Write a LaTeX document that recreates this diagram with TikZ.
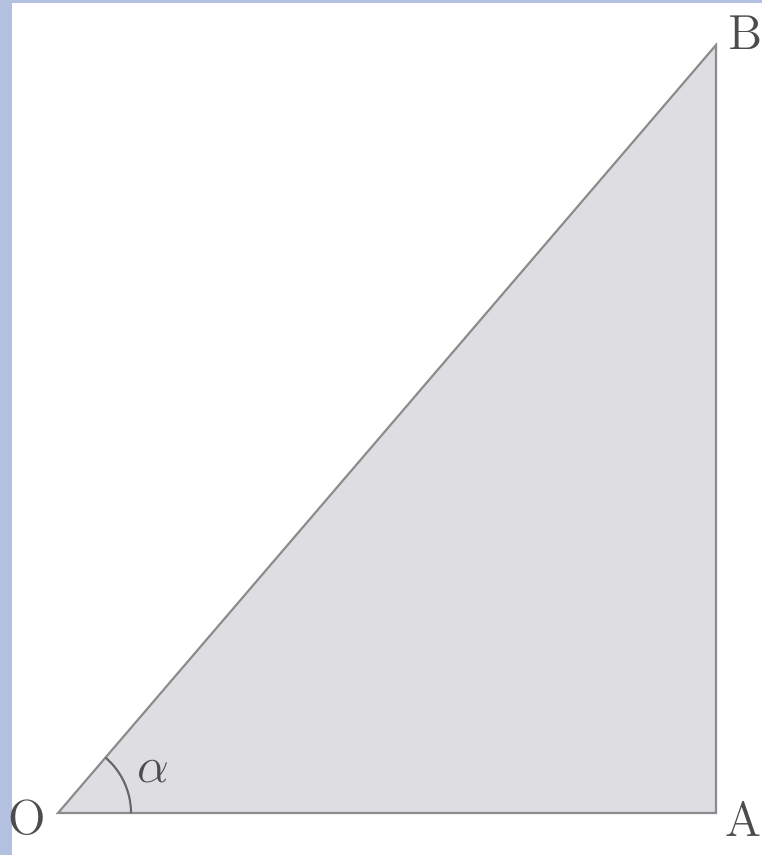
\documentclass[tikz,border=0pt]{standalone}
\usetikzlibrary{calc,positioning}
\begin{document}
\begin{tikzpicture}[x=0.01cm, y=-0.01cm, every node/.style={font=\fontsize{14}{16}\selectfont, text=black!70}]
  \definecolor{bordo}{RGB}{180,192,224}
  \definecolor{riemp}{RGB}{222,221,226}
  \useasboundingbox (0,0) rectangle (762,855);
  % Sfondo e bordo
  \fill[white] (0,0) rectangle (762,855);
  \fill[bordo] (0,0) rectangle (12,855);
  \fill[bordo] (0,0) rectangle (762,3);

  % Vertici
  \coordinate (O) at (58,813);
  \coordinate (A) at (716,813);
  \coordinate (B) at (716,45);

  % Triangolo
  \draw[fill=riemp, draw=black!45, line width=0.6pt] (O) -- (A) -- (B) -- cycle;

  % Angolo
  \draw[black!60, line width=0.6pt] ($(O)+(73,0)$) arc[start angle=0, end angle=49.4, radius=0.73cm];
  \node (alfa) at (153,772) {$\alpha$};

  % Etichette
  \node[anchor=east, inner sep=1pt] (lO) at ($(O)+(-8,5)$) {O};
  \node[anchor=west, inner sep=1pt] (lA) at ($(A)+(5,6)$) {A};
  \node[anchor=west, inner sep=1pt] (lB) at ($(B)+(8,-12)$) {B};
\end{tikzpicture}
\end{document}
